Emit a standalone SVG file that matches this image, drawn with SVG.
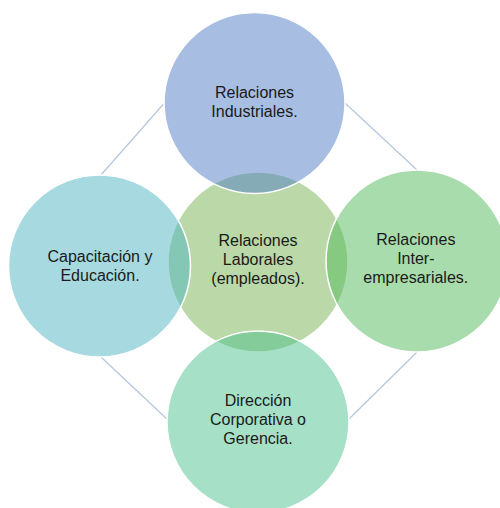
<svg xmlns="http://www.w3.org/2000/svg" width="500" height="508" viewBox="0 0 500 508">
<style>
.c{stroke:#ffffff;stroke-width:1.5;fill-opacity:0.5}
.t{font-family:"Liberation Sans",Arial,sans-serif;font-size:16px;fill:#1a1a1a;text-anchor:middle}
.ln{stroke:#b4c6de;stroke-width:1.2;fill:none}
</style>
<rect width="500" height="508" fill="#ffffff"/>
<g id="connectors">
<line class="ln" x1="163.5" y1="104" x2="101" y2="175"/>
<line class="ln" x1="345" y1="103" x2="417" y2="170"/>
<line class="ln" x1="101" y1="357" x2="168" y2="420"/>
<line class="ln" x1="417" y1="352" x2="348" y2="420"/>
</g>
<g id="center">
<circle class="c" cx="258" cy="262" r="90" fill="#77b151"/>
</g>
<g id="top">
<circle class="c" cx="254.5" cy="103" r="90.5" fill="#4f7ec6"/>
</g>
<g id="left">
<circle class="c" cx="99.5" cy="266" r="91" fill="#4db5c1"/>
</g>
<g id="right">
<circle class="c" cx="417" cy="261" r="91" fill="#51b959"/>
</g>
<g id="bottom">
<circle class="c" cx="258" cy="422" r="91" fill="#4dc18d"/>
</g>
<g id="labels">
<text class="t" x="254.5" y="98.3">Relaciones</text>
<text class="t" x="254.5" y="117.3">Industriales.</text>
<text class="t" x="258" y="246">Relaciones</text>
<text class="t" x="258" y="265">Laborales</text>
<text class="t" x="258" y="284">(empleados).</text>
<text class="t" x="100" y="261.7">Capacitación y</text>
<text class="t" x="100" y="280.7">Educación.</text>
<text class="t" x="415.8" y="245">Relaciones</text>
<text class="t" x="415.8" y="264">Inter-</text>
<text class="t" x="415.8" y="283.3">empresariales.</text>
<text class="t" x="258" y="406">Dirección</text>
<text class="t" x="258" y="425">Corporativa o</text>
<text class="t" x="258" y="444.3">Gerencia.</text>
</g>
</svg>
